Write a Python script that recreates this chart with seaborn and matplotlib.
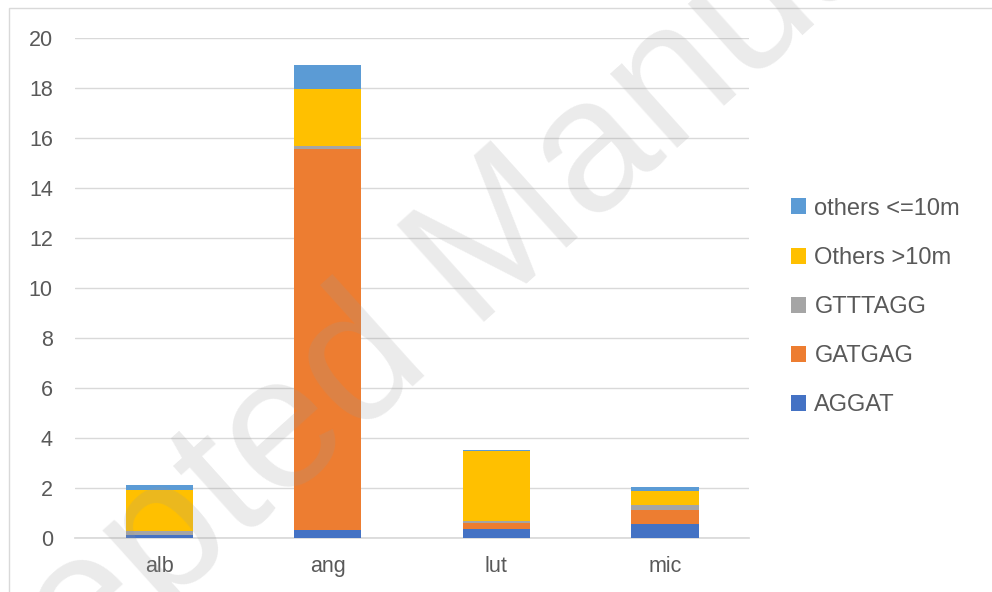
import numpy as np
import pandas as pd
import matplotlib
matplotlib.use("Agg")
import matplotlib.pyplot as plt
import seaborn as sns

species = ["alb", "ang", "lut", "mic"]
series = ["AGGAT", "GATGAG", "GTTTAGG", "Others >10m", "others <=10m"]
aggat = [0.11, 0.32, 0.36, 0.57]
gatgag = [0.03, 15.24, 0.23, 0.56]
gtttagg = [0.13, 0.14, 0.08, 0.20]
others_gt10 = [1.65, 2.27, 2.80, 0.54]
others_le10 = [0.19, 0.96, 0.04, 0.18]
colors = ["#4472C4", "#ED7D31", "#A5A5A5", "#FFC000", "#5B9BD5"]

sns.set_theme(style="white")
plt.rcParams["font.family"] = ["Liberation Sans", "DejaVu Sans"]

df = pd.DataFrame({"species": species, "AGGAT": aggat, "GATGAG": gatgag,
                   "GTTTAGG": gtttagg, "Others >10m": others_gt10,
                   "others <=10m": others_le10})
cum = df[series].cumsum(axis=1)
cum["species"] = species

fig = plt.figure(figsize=(9.92, 5.92), dpi=100)
ax = fig.add_axes([0.0756, 0.0912, 0.6795, 0.8446])

# draw cumulative totals from top segment down so each covers the lower part
for s, c in zip(series[::-1], colors[::-1]):
    sns.barplot(data=cum, x="species", y=s, color=c, width=0.4, label=s,
                ax=ax, zorder=3, saturation=1, linewidth=0, edgecolor="none")

ax.set_ylim(0, 20)
ax.set_yticks(range(0, 21, 2))
ax.set_xlim(-0.5, 3.5)
ax.set_xlabel("")
ax.set_ylabel("")
ax.yaxis.grid(True, color="#D9D9D9", linewidth=1)
ax.set_axisbelow(True)
for sp in ax.spines.values():
    sp.set_visible(False)
ax.spines["bottom"].set_visible(True)
ax.spines["bottom"].set_color("#D9D9D9")
ax.tick_params(axis="both", length=0, labelsize=15.5, labelcolor="#595959")
ax.tick_params(axis="y", pad=16)
ax.tick_params(axis="x", pad=13)

leg = ax.legend(loc="center left", bbox_to_anchor=(1.03, 0.462), frameon=False,
                fontsize=17, labelspacing=1.15, handlelength=0.66,
                handleheight=0.66, handletextpad=0.35)
for t in leg.get_texts():
    t.set_color("#595959")

# figure border
fig.patches.append(plt.Rectangle((0.009, -0.01), 1.0, 0.997, transform=fig.transFigure,
                                 fill=False, edgecolor="#D9D9D9", linewidth=1))

# watermark
fig.text(0.475, 0.548, "Accepted Manuscript", fontsize=136, rotation=42,
         color="#9A9A9A", alpha=0.2, ha="center", va="center",
         rotation_mode="anchor", zorder=10)

fig.savefig("out.png", dpi=100)
